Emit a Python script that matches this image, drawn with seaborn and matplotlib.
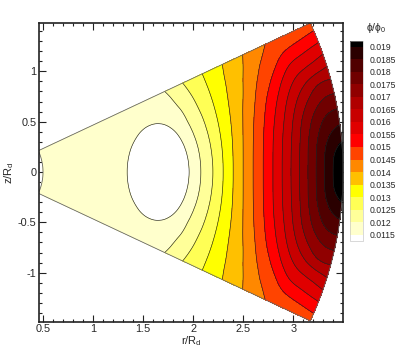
import numpy as np
import matplotlib
matplotlib.use("Agg")
import matplotlib.pyplot as plt
import matplotlib.tri as mtri
from matplotlib.ticker import MultipleLocator, FormatStrFormatter
import seaborn as sns

# phi/phi0 sampled on rays from the origin (read off the contour map),
# upper half of the wedge; the lower half is its mirror image
rho = [0.5, 0.75, 1.0, 1.25, 1.375, 1.5, 1.625, 1.75, 1.875, 2.0, 2.125,
       2.25, 2.5, 2.625, 2.75, 2.875, 3.0, 3.125, 3.25, 3.375, 3.5]
theta_deg = [0, 2.5, 5, 7.5, 10, 12.5, 15, 17.5, 20, 22.5, 25]

phi_t000 = [0.01185, 0.01185, 0.01182, 0.011639, 0.011438, 0.011217, 0.011098, 0.011066, 0.011198, 0.011676, 0.012188,
            0.01275, 0.0140, 0.014625, 0.01525, 0.015917, 0.016625, 0.017361, 0.018125, 0.018861, 0.01956]
phi_t025 = [0.01185, 0.01185, 0.01182, 0.011643, 0.011445, 0.011229, 0.01111, 0.011082, 0.011213, 0.011688, 0.012194,
            0.012752, 0.013988, 0.014612, 0.015236, 0.0159, 0.016605, 0.017342, 0.018098, 0.018825, 0.01941]
phi_t050 = [0.01185, 0.01185, 0.01182, 0.011654, 0.011466, 0.011262, 0.011148, 0.011129, 0.01126, 0.01172, 0.012214,
            0.01276, 0.013954, 0.014571, 0.015191, 0.015846, 0.016537, 0.01727, 0.017995, 0.01861, 0.01899]
phi_t075 = [0.01185, 0.01185, 0.01182, 0.011672, 0.011499, 0.011312, 0.011207, 0.0112, 0.011332, 0.011772, 0.012245,
            0.012769, 0.013903, 0.014502, 0.01511, 0.015746, 0.016421, 0.017134, 0.017785, 0.018299, 0.01854]
phi_t100 = [0.01185, 0.01185, 0.01183, 0.011691, 0.01154, 0.011376, 0.011282, 0.011288, 0.011424, 0.01184, 0.012286,
            0.012782, 0.013839, 0.014406, 0.01499, 0.015597, 0.016247, 0.01692, 0.017498, 0.017918, 0.01807]
phi_t125 = [0.01185, 0.01185, 0.01183, 0.011713, 0.011586, 0.011447, 0.011366, 0.011382, 0.011527, 0.011914, 0.012332,
            0.012796, 0.013768, 0.014286, 0.014839, 0.015408, 0.016014, 0.016611, 0.017122, 0.017473, 0.017575]
phi_t150 = [0.01185, 0.01185, 0.01183, 0.011739, 0.011633, 0.011519, 0.011452, 0.011472, 0.01163, 0.011986, 0.012382,
            0.01281, 0.013696, 0.014151, 0.01466, 0.015176, 0.015723, 0.016249, 0.016674, 0.017003, 0.01705]
phi_t175 = [0.01185, 0.01185, 0.01184, 0.011761, 0.011679, 0.01159, 0.011535, 0.011552, 0.011725, 0.012047, 0.012433,
            0.012825, 0.013624, 0.014014, 0.014471, 0.014909, 0.015386, 0.015837, 0.016123, 0.016318, 0.01649]
phi_t200 = [0.01185, 0.01185, 0.01184, 0.011786, 0.011718, 0.011652, 0.011611, 0.011621, 0.011803, 0.01213, 0.01248,
            0.012838, 0.013555, 0.013901, 0.014283, 0.01466, 0.015013, 0.015402, 0.015606, 0.015748, 0.01589]
phi_t225 = [0.01185, 0.01185, 0.01184, 0.011794, 0.011754, 0.011704, 0.011678, 0.011682, 0.011868, 0.012212, 0.012528,
            0.012851, 0.013499, 0.013801, 0.014116, 0.014445, 0.0147, 0.014939, 0.015075, 0.015176, 0.015277]
phi_t250 = [0.01185, 0.01185, 0.01185, 0.011815, 0.011787, 0.011748, 0.011727, 0.011731, 0.01195, 0.012289, 0.012574,
            0.012863, 0.013436, 0.013717, 0.013993, 0.014246, 0.014498, 0.01455, 0.0146, 0.01465, 0.0147]

levels = [0.0115, 0.012, 0.0125, 0.013, 0.0135, 0.014, 0.0145, 0.015,
          0.0155, 0.016, 0.0165, 0.017, 0.0175, 0.018, 0.0185, 0.019]
band_colors = ['#ffffff', '#ffffcc', '#ffff99', '#ffff55', '#ffff00', '#ffc000', '#ff8800', '#ff4400',
               '#ff0000', '#e00000', '#c80000', '#b00000', '#900000', '#700000', '#500000', '#2a0000',
               '#000000']

sns.set_style("ticks")
plt.rcParams['font.family'] = ['Liberation Sans', 'DejaVu Sans']

upper = [phi_t000, phi_t025, phi_t050, phi_t075, phi_t100, phi_t125,
         phi_t150, phi_t175, phi_t200, phi_t225, phi_t250]
rows = upper[:0:-1] + upper
angles = np.radians([-t for t in theta_deg[:0:-1]] + theta_deg)
R, T = np.meshgrid(rho, angles)
r_pts = (R * np.cos(T)).ravel()
z_pts = (R * np.sin(T)).ravel()
phi = np.array(rows).ravel()

# split each cell of the polar grid in two, mirrored about the axis
nr, nc = len(angles), len(rho)
mid = nr // 2
triangles = []
for i in range(nr - 1):
    for j in range(nc - 1):
        k = i * nc + j
        if i >= mid:
            triangles += [[k, k + 1, k + nc + 1], [k, k + nc + 1, k + nc]]
        else:
            triangles += [[k, k + 1, k + nc], [k + 1, k + nc + 1, k + nc]]
tri = mtri.Triangulation(r_pts, z_pts, triangles)
refiner = mtri.UniformTriRefiner(tri)
tri_f, phi_f = refiner.refine_field(phi, subdiv=3)

fig = plt.figure(figsize=(4.07, 3.62), dpi=100)
ax = fig.add_axes([0.0966, 0.1113, 0.7454, 0.826])

cs = ax.tricontourf(tri_f, phi_f, levels=levels, colors=band_colors, extend='both')
ax.tricontour(tri_f, phi_f, levels=levels, colors='#222222', linewidths=0.45)

# wedge outline
bx = np.concatenate([R[:, 0] * np.cos(angles), R[-1, :] * np.cos(angles[-1]),
                     R[::-1, -1] * np.cos(angles[::-1]), R[0, ::-1] * np.cos(angles[0])])
bz = np.concatenate([R[:, 0] * np.sin(angles), R[-1, :] * np.sin(angles[-1]),
                     R[::-1, -1] * np.sin(angles[::-1]), R[0, ::-1] * np.sin(angles[0])])
ax.plot(bx, bz, color='#666666', lw=0.6)

ax.set_xlim(0.463, 3.495)
ax.set_ylim(-1.487, 1.483)
ax.xaxis.set_major_locator(MultipleLocator(0.5))
ax.xaxis.set_minor_locator(MultipleLocator(0.1))
ax.yaxis.set_major_locator(MultipleLocator(0.5))
ax.yaxis.set_minor_locator(MultipleLocator(0.1))
ax.xaxis.set_major_formatter(FormatStrFormatter('%g'))
ax.yaxis.set_major_formatter(FormatStrFormatter('%g'))
ax.tick_params(which='both', direction='in', top=True, right=True, labelsize=7.8, width=0.8, color='#222222')
ax.tick_params(which='major', length=5, pad=2)
ax.tick_params(which='minor', length=2.5)
for s in ax.spines.values():
    s.set_linewidth(1.2)
    s.set_color('#222222')
ax.set_xlabel(r'$\mathregular{r/R_d}$', fontsize=8, labelpad=0)
ax.set_ylabel(r'$\mathregular{z/R_d}$', fontsize=8, labelpad=1)

cax = fig.add_axes([0.86, 0.335, 0.032, 0.5525])
cb = fig.colorbar(cs, cax=cax, ticks=levels, extendrect=True, extendfrac=0.032)
cb.ax.yaxis.set_major_formatter(FormatStrFormatter('%g'))
cb.ax.tick_params(length=0, labelsize=6.2, pad=5)
cb.outline.set_linewidth(0.4)
cb.outline.set_edgecolor('#bbbbbb')
fig.text(0.925, 0.922, r'$\mathregular{\phi/\phi_0}$', ha='center', va='center', fontsize=7.5)

fig.savefig('out.png', dpi=100)
